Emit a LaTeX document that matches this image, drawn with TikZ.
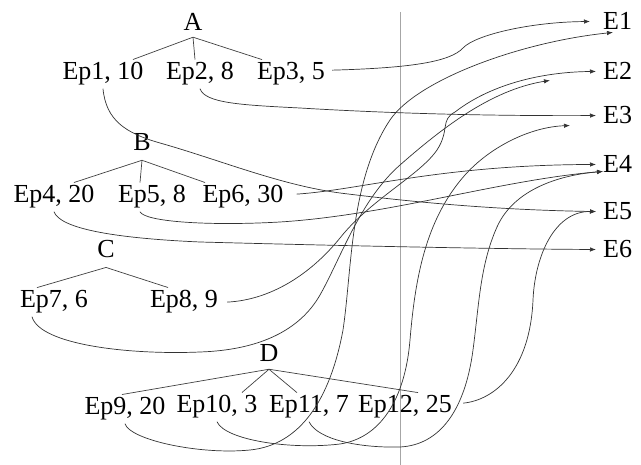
\documentclass[tikz,border=0pt]{standalone}
\usepackage{fontspec}
\setmainfont{Liberation Serif}
\usetikzlibrary{arrows.meta}

\begin{document}
\begin{tikzpicture}[x=1pt,y=-1pt,>={Latex[length=6pt,width=4.5pt]},
      lbl/.style={inner sep=3pt,anchor=base,font=\fontsize{26}{30}\selectfont},
      goal/.style={lbl,anchor=base west},
      branch/.style={draw=black!75,line width=0.7pt},
      link/.style={->,draw=black!80,line width=0.7pt,shorten >=4pt}]
    \useasboundingbox (0,0) rectangle (641,465);
    \draw[black!35,line width=0.8pt] (400,12) -- (400,465);

    \node[lbl] (a) at (193,31) {A};
    \node[lbl] (ep1) at (103,80) {Ep1, 10};
    \node[lbl] (ep2) at (200,80) {Ep2, 8};
    \node[lbl] (ep3) at (291,80) {Ep3, 5};
    \node[lbl] (b) at (142,151) {B};
    \node[lbl] (ep4) at (54,203) {Ep4, 20};
    \node[lbl] (ep5) at (152,203) {Ep5, 8};
    \node[lbl] (ep6) at (243,203) {Ep6, 30};
    \node[lbl] (c) at (106,258) {C};
    \node[lbl] (ep7) at (54,308) {Ep7, 6};
    \node[lbl] (ep8) at (184,308) {Ep8, 9};
    \node[lbl] (d) at (269,362) {D};
    \node[lbl] (ep9) at (125,415) {Ep9, 20};
    \node[lbl] (ep10) at (217,413) {Ep10, 3};
    \node[lbl] (ep11) at (309,413) {Ep11, 7};
    \node[lbl] (ep12) at (405,413) {Ep12, 25};
    \node[goal] (e1) at (600,30) {E1};
    \node[goal] (e2) at (600,80) {E2};
    \node[goal] (e3) at (600,124) {E3};
    \node[goal] (e4) at (600,173) {E4};
    \node[goal] (e5) at (600,220) {E5};
    \node[goal] (e6) at (600,258) {E6};

    \draw[branch] ([yshift=-3pt]a.south) -- ([xshift=30pt]ep1.north);
    \draw[branch] ([yshift=-3pt]a.south) -- ([xshift=-5pt]ep2.north);
    \draw[branch] ([yshift=-3pt]a.south) -- ([xshift=-29pt]ep3.north);
    \draw[branch] ([yshift=-6pt]b.south) -- ([xshift=20pt]ep4.north);
    \draw[branch] ([yshift=-6pt]b.south) -- ([xshift=-12pt]ep5.north);
    \draw[branch] ([yshift=-6pt]b.south) -- ([xshift=-38pt]ep6.north);
    \draw[branch] ([yshift=-6pt]c.south) -- ([xshift=-17pt]ep7.north);
    \draw[branch] ([yshift=-6pt]c.south) -- ([xshift=-16pt]ep8.north);
    \draw[branch] ([yshift=-4pt]d.south) -- ([xshift=-3pt]ep9.north);
    \draw[branch] ([yshift=-4pt]d.south) -- ([xshift=25pt]ep10.north);
    \draw[branch] ([yshift=-4pt]d.south) -- ([xshift=-12pt]ep11.north);
    \draw[branch] ([yshift=-4pt]d.south) -- ([xshift=13pt]ep12.north);

    \draw[link] (ep1.south) .. controls (106,120) and (125,133) .. (160,143)
      .. controls (220,160) and (280,185) .. (340,193)
      .. controls (420,203) and (500,210) .. (e5.west);
    \draw[link] (ep2.south) .. controls (205,103) and (240,105) .. (300,108)
      .. controls (400,114) and (500,116) .. (e3.west);
    \draw[link,shorten >=10pt] ([xshift=4pt,yshift=4pt]ep3.east) .. controls (410,68) and (450,62) .. (463,48)
      .. controls (475,35) and (530,22) .. (e1.west);
    \draw[link] (ep4.south) .. controls (60,228) and (110,238) .. (200,242)
      .. controls (350,246) and (500,249) .. (e6.west);
    \draw[link,shorten >=0pt] ([xshift=-12pt]ep5.south) .. controls (145,222) and (210,226) .. (280,222)
      .. controls (390,215) and (500,180) .. ([xshift=3pt,yshift=-7pt]e4.west);
    \draw[link] ([xshift=10pt,yshift=3pt]ep6.east) .. controls (360,190) and (440,165) .. (e4.west);
    \draw[link,shorten >=0pt] ([xshift=-22pt]ep7.south) .. controls (40,345) and (130,355) .. (200,352)
      .. controls (260,350) and (300,330) .. (320,295)
      .. controls (340,260) and (360,200) .. (400,165)
      .. controls (440,130) and (490,90) .. ([xshift=-50pt,yshift=-9pt]e2.west);
    \draw[link] ([xshift=6pt]ep8.east) .. controls (270,300) and (310,275) .. (340,238)
      .. controls (370,200) and (420,175) .. (437,150)
      .. controls (450,130) and (440,120) .. (455,112)
      .. controls (490,85) and (540,72) .. (e2.west);
    \draw[link,shorten >=0pt] (ep9.south) .. controls (130,440) and (200,455) .. (250,450)
      .. controls (300,445) and (330,400) .. (343,330)
      .. controls (352,270) and (350,180) .. (390,120)
      .. controls (417,80) and (520,42) .. ([xshift=13pt,yshift=-11pt]e1.west);
    \draw[link,shorten >=0pt] (ep10.south) .. controls (225,440) and (290,450) .. (340,444)
      .. controls (380,438) and (405,400) .. (410,340)
      .. controls (415,280) and (425,220) .. (465,175)
      .. controls (490,147) and (530,127) .. ([xshift=-30pt,yshift=-10pt]e3.west);
    \draw[link,shorten >=0pt] (ep11.south) .. controls (318,440) and (360,448) .. (400,447)
      .. controls (440,445) and (465,410) .. (473,350)
      .. controls (479,305) and (480,265) .. (497,227)
      .. controls (514,189) and (560,175) .. ([xshift=3pt,yshift=-7pt]e4.west);
    \draw[link] ([xshift=8pt,yshift=4pt]ep12.east) .. controls (495,400) and (530,370) .. (533,300)
      .. controls (535,255) and (555,211) .. (e5.west);
  \end{tikzpicture}
\end{document}
